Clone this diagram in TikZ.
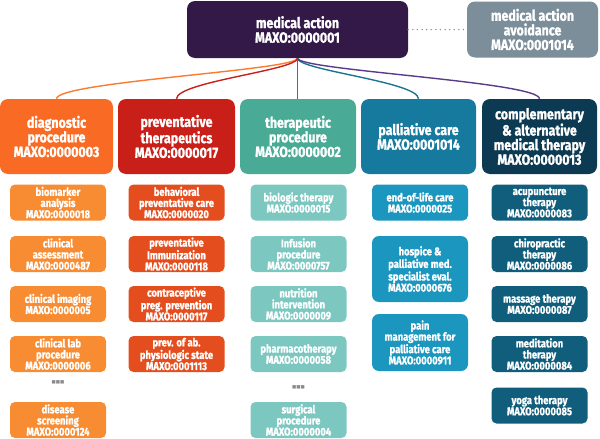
\documentclass[tikz,border=0pt]{standalone}
\usepackage{fontspec}
\setmainfont{Fira Sans}[FakeStretch=0.84, BoldFeatures={FakeBold=1.2}]
\newfontfamily\dotsfont{DejaVu Sans}
\definecolor{ctop}{HTML}{321948}
\definecolor{cavoid}{HTML}{7B8E99}
\definecolor{cdiag}{HTML}{F96B24}
\definecolor{cprev}{HTML}{C82019}
\definecolor{cther}{HTML}{49AA96}
\definecolor{cpall}{HTML}{167A9E}
\definecolor{ccomp}{HTML}{0C3A52}
\definecolor{sdiag}{HTML}{F78C32}
\definecolor{sprev}{HTML}{E44E1E}
\definecolor{sther}{HTML}{7CC8C1}
\definecolor{spall}{HTML}{1B96BE}
\definecolor{scomp}{HTML}{105E7C}
\definecolor{ldiag}{HTML}{FB7A2E}
\definecolor{lprev}{HTML}{C8201A}
\definecolor{lther}{HTML}{666666}
\definecolor{lpall}{HTML}{1B7590}
\definecolor{lcomp}{HTML}{5A3A8A}
\definecolor{cdots}{HTML}{8A8A8A}
\begin{document}
\begin{tikzpicture}[x=1pt,y=-1pt,
  bigbox/.style={rounded corners=8pt, text=white, align=center, inner sep=0pt,
    font=\bfseries\fontsize{14.8}{14.6}\selectfont},
  lvone/.style={bigbox, minimum width=115pt, minimum height=75pt},
  sub/.style={rounded corners=5pt, text=white, align=center, inner sep=0pt,
    minimum width=96pt, minimum height=36pt,
    font=\bfseries\fontsize{11.2}{11.1}\selectfont},
  link/.style={line width=1.4pt},
  dotnode/.style={text=cdots, font=\dotsfont\fontsize{4.5}{5}\selectfont, inner sep=0pt}
]
\useasboundingbox (0,0) rectangle (600,439);

% top level
\node[bigbox, fill=ctop, minimum width=221pt, minimum height=57pt] (top) at (297.5,29.5)
  {medical action\\MAXO:0000001};
\node[bigbox, fill=cavoid, minimum width=131pt, minimum height=56pt] (avoid) at (532.5,29.5)
  {medical action\\avoidance\\MAXO:0001014};

% level one
\node[lvone, fill=cdiag, minimum width=113pt] (diag) at (56.5,136.5) {diagnostic\\procedure\\MAXO:0000003};
\node[lvone, fill=cprev, minimum width=117pt] (prev) at (176.5,136.5) {preventative\\therapeutics\\MAXO:0000017};
\node[lvone, fill=cther, minimum width=116pt] (ther) at (298,136.5) {therapeutic\\procedure\\MAXO:0000002};
\node[lvone, fill=cpall] (pall) at (418.5,136.5) {palliative care\\MAXO:0001014};
\node[lvone, fill=ccomp] (comp) at (539.5,136.5) {complementary\\\& alternative\\medical therapy\\MAXO:0000013};

% connectors
\draw[link, dash pattern=on 0pt off 4.6pt, line cap=round, line width=1.5pt, cdots] (top.east) -- (avoid.west);
\draw[link, ldiag] (top.south) .. controls +(0,12) and +(0,-17) .. (diag.north);
\draw[link, lprev] (top.south) .. controls +(0,12) and +(0,-17) .. (prev.north);
\draw[link, lther, line width=1.2pt] (top.south) -- (top.south |- ther.north);
\draw[link, lpall] (top.south) .. controls +(0,12) and +(0,-17) .. (pall.north);
\draw[link, lcomp] (top.south) .. controls +(0,12) and +(0,-17) .. (comp.north);

% column 1
\node[sub, fill=sdiag] (a1) at (58,202.5) {biomarker\\analysis\\MAXO:0000018};
\node[sub, fill=sdiag] (a2) at (58,254) {clinical\\assessment\\MAXO:0000487};
\node[sub, fill=sdiag] (a3) at (58,304) {clinical imaging\\MAXO:0000005};
\node[sub, fill=sdiag] (a4) at (58,354) {clinical lab\\procedure\\MAXO:0000006};
\node[dotnode] (adots) at (58,382) {■■■};
\node[sub, fill=sdiag] (a5) at (58,420) {disease\\screening\\MAXO:0000124};

% column 2
\node[sub, fill=sprev] (b1) at (176.5,202.5) {behavioral\\preventative care\\MAXO:0000020};
\node[sub, fill=sprev] (b2) at (176.5,254) {preventative\\Immunization\\MAXO:0000118};
\node[sub, fill=sprev] (b3) at (176.5,304) {contraceptive\\preg. prevention\\MAXO:0000117};
\node[sub, fill=sprev] (b4) at (176.5,354) {prev. of ab.\\physiologic state\\MAXO:0001113};

% column 3
\node[sub, fill=sther] (c1) at (298.5,202.5) {biologic therapy\\MAXO:0000015};
\node[sub, fill=sther] (c2) at (298.5,254) {Infusion\\procedure\\MAXO:0000757};
\node[sub, fill=sther] (c3) at (298.5,304) {nutrition\\intervention\\MAXO:0000009};
\node[sub, fill=sther] (c4) at (298.5,354) {pharmacotherapy\\MAXO:0000058};
\node[dotnode] (cdotsn) at (298.5,387) {■■■};
\node[sub, fill=sther] (c5) at (298.5,420) {surgical\\procedure\\MAXO:0000004};

% column 4
\node[sub, fill=spall] (d1) at (420,202.5) {end-of-life care\\MAXO:0000025};
\node[sub, fill=spall, minimum height=66pt, rounded corners=7pt] (d2) at (420,269) {hospice \&\\palliative med.\\specialist eval.\\MAXO:0000676};
\node[sub, fill=spall, minimum height=57pt, rounded corners=7pt] (d3) at (420,342.5) {pain\\management for\\palliative care\\MAXO:0000911};

% column 5
\node[sub, fill=scomp] (e1) at (539.5,202.5) {acupuncture\\therapy\\MAXO:0000083};
\node[sub, fill=scomp] (e2) at (539.5,254) {chiropractic\\therapy\\MAXO:0000086};
\node[sub, fill=scomp] (e3) at (539.5,304) {massage therapy\\MAXO:0000087};
\node[sub, fill=scomp] (e4) at (539.5,354) {meditation\\therapy\\MAXO:0000084};
\node[sub, fill=scomp] (e5) at (539.5,405.5) {yoga therapy\\MAXO:0000085};
\end{tikzpicture}
\end{document}
